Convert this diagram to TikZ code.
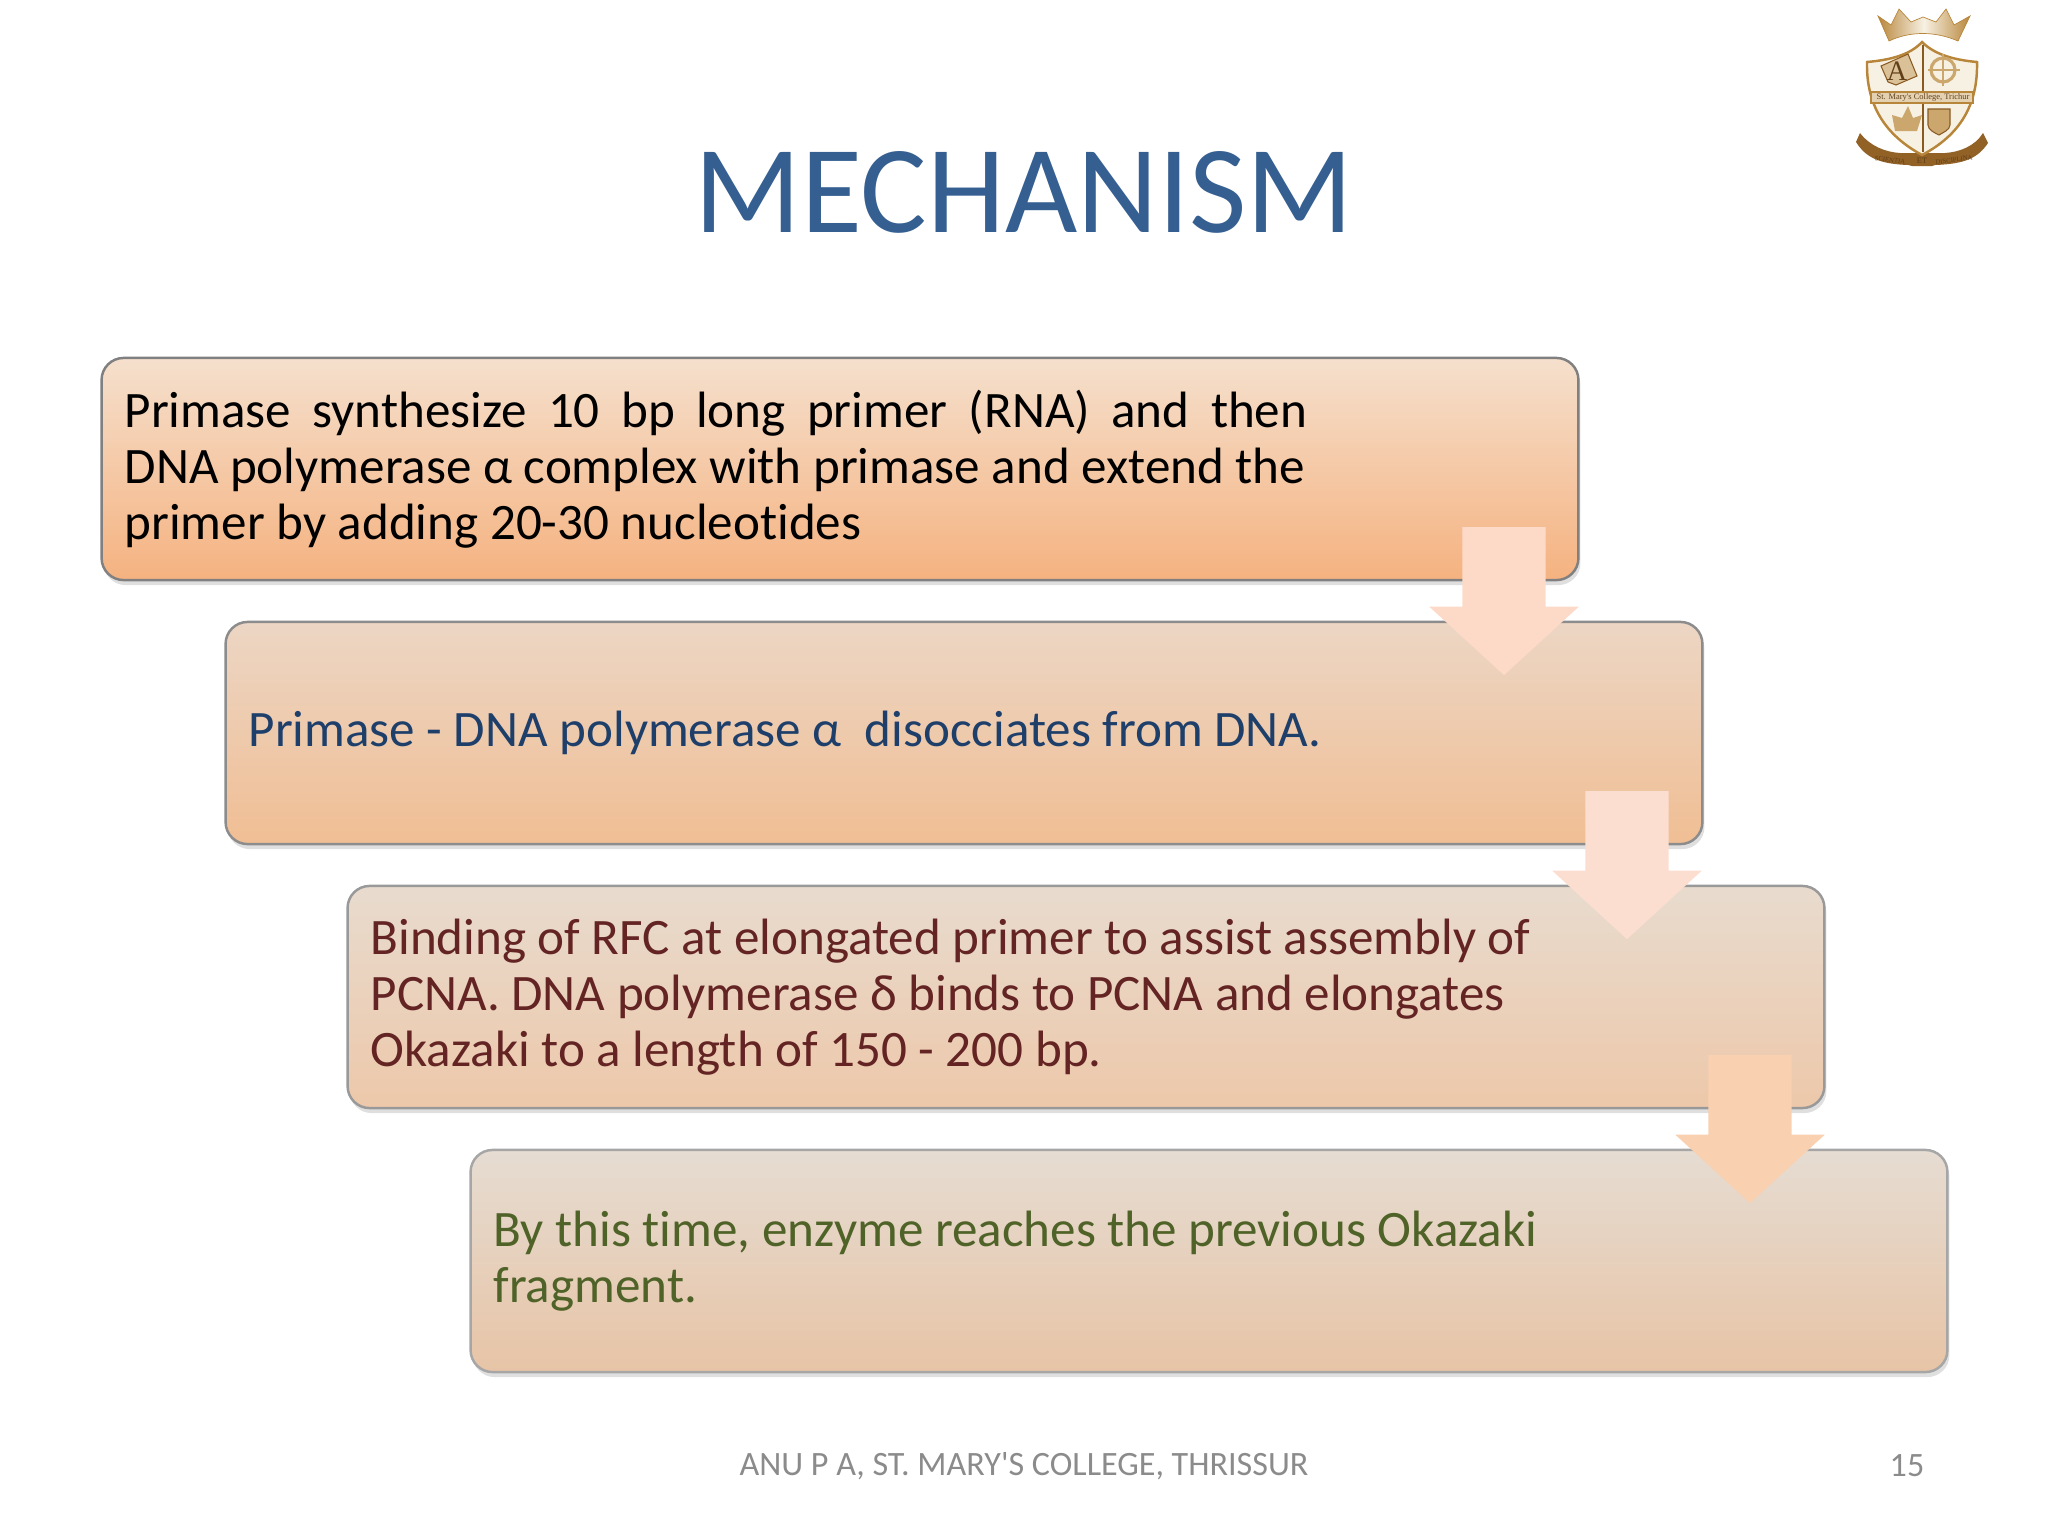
\documentclass[tikz,border=0pt]{standalone}
\usepackage{fontspec}
\setmainfont{Carlito}
\newfontfamily\slidefont{Carlito}[Ligatures=NoCommon]
\newfontfamily\crestfont{Liberation Serif}
\usetikzlibrary{shapes.arrows,shadows}

\definecolor{titleblue}{HTML}{365F91}
\definecolor{footgray}{HTML}{8B8B8B}
\definecolor{darkred}{HTML}{632423}
\definecolor{darkgreen}{HTML}{4F6228}
\definecolor{darkblue}{HTML}{1F3F6B}
\definecolor{crestgold}{HTML}{B8863B}
\definecolor{crestbrown}{HTML}{8A5A22}
\definecolor{crestcream}{HTML}{F7F1E3}
\definecolor{topa}{HTML}{F5E0CD}
\definecolor{bota}{HTML}{F5B280}
\definecolor{topb}{HTML}{ECD6C4}
\definecolor{botb}{HTML}{F0BE94}
\definecolor{topc}{HTML}{E8DBCE}
\definecolor{botc}{HTML}{EDC8AA}
\definecolor{topd}{HTML}{E6DCD2}
\definecolor{botd}{HTML}{E7C4A6}
\definecolor{arrowa}{HTML}{FDDAC8}
\definecolor{arrowb}{HTML}{FBDED0}
\definecolor{arrowc}{HTML}{F9D0B0}

\begin{document}
\begin{tikzpicture}[
    x=0.01cm,
    y=-0.01cm,
    titletext/.style={
        font=\slidefont\fontsize{35.5}{40}\selectfont,
        text=titleblue,
        inner sep=0pt
    },
    foottext/.style={
        font=\slidefont\fontsize{9.7}{12}\selectfont,
        text=footgray,
        inner sep=0pt
    },
    stepbox/.style={
        draw=#1,
        line width=0.7pt,
        rounded corners=0.22cm,
        minimum width=14.76cm,
        minimum height=2.22cm,
        inner xsep=0.23cm,
        inner ysep=0pt,
        text width=14.3cm,
        align=flush left,
        font=\slidefont\fontsize{14.53}{16}\selectfont,
        execute at end node={\endgraf\vskip-0.1cm},
        drop shadow={shadow xshift=0.02cm,shadow yshift=-0.05cm,opacity=0.25}
    },
    downarrow/.style={
        shape=single arrow,
        shape border rotate=270,
        minimum height=1.48cm,
        inner sep=0.41cm,
        single arrow head extend=0.33cm,
        single arrow tip angle=95,
        fill=#1
    },
    cresttext/.style={
        font=\crestfont\fontsize{#1}{3}\selectfont,
        text=crestbrown!70!black,
        inner sep=0pt
    }
]

\useasboundingbox (0,0) rectangle (2048,1536);

% ============================================================
% Title and footer
% ============================================================
\node[titletext] (title) at (1024,192) {MECHANISM};
\node[foottext] (footer) at (1024,1466) {ANU P A, ST. MARY'S COLLEGE, THRISSUR};
\node[foottext] (pageno) at (1907,1466) {15};

% ============================================================
% Steps
% ============================================================
\node[stepbox=black!50, top color=topa, bottom color=bota]
    (primer) at (840,469)
    {\makebox[11.82cm][s]{Primase synthesize 10 bp long primer (RNA) and then}\\
     DNA polymerase α complex with primase and extend the\\
     primer by adding 20-30 nucleotides};

\node[stepbox=black!45, top color=topb, bottom color=botb, text=darkblue]
    (release) at (964,733)
    {Primase - DNA polymerase α\ \ disocciates from DNA.};

\node[stepbox=black!40, top color=topc, bottom color=botc, text=darkred]
    (rfc) at (1086,997)
    {Binding of RFC at elongated primer to assist assembly of\\
     PCNA. DNA polymerase δ binds to PCNA and elongates\\
     Okazaki to a length of 150 - 200 bp.};

\node[stepbox=black!35, top color=topd, bottom color=botd, text=darkgreen]
    (okazaki) at (1209,1261)
    {By this time, enzyme reaches the previous Okazaki\\
     fragment.};

% ------------------------------------------------------------
% Block arrows between the steps
% ------------------------------------------------------------
\node[downarrow=arrowa] (arrow-a) at (1504,582) {};
\node[downarrow=arrowb] (arrow-b) at (1627,846) {};
\node[downarrow=arrowc] (arrow-c) at (1750,1110) {};

% ============================================================
% Crest
% ============================================================
% crown
\path[left color=crestgold, right color=crestgold, middle color=crestcream, draw=crestgold, line width=0.2pt]
    (1878,16) -- (1891,25) -- (1899,9) -- (1911,22) -- (1923,17) -- (1936,22) -- (1946,9)
    -- (1954,25) -- (1970,16) -- (1958,41) .. controls (1935,31) and (1910,31) .. (1889,41) -- cycle;
% ribbon
\path[fill=crestbrown!85!crestgold]
    (1856,142) -- (1860,133) .. controls (1870,146) and (1885,152) .. (1900,153) -- (1945,153)
    .. controls (1960,152) and (1975,146) .. (1983,133) -- (1988,143) .. controls (1978,158) and (1965,164) .. (1935,165)
    -- (1932,166) -- (1912,166) -- (1908,165) .. controls (1880,164) and (1866,158) .. (1856,142) -- cycle;
\node[cresttext=1.9, rotate=-8] (motto-l) at (1890,160) {SCIENTIA};
\node[cresttext=2.4] (motto-c) at (1922,161) {ET};
\node[cresttext=1.9, rotate=8] (motto-r) at (1954,160) {DISCIPLINA};
% shield
\path[fill=crestcream, draw=crestgold, line width=0.7pt]
    (1867,62) .. controls (1890,60) and (1910,55) .. (1922,42) .. controls (1935,55) and (1955,60) .. (1977,62)
    .. controls (1978,105) and (1960,135) .. (1922,155) .. controls (1885,135) and (1866,105) .. (1867,62) -- cycle;
\draw[crestbrown, line width=0.5pt] (1923,45) -- (1923,152);
\path[fill=crestcream!70!crestgold, draw=crestgold, line width=0.4pt] (1871,92) rectangle (1973,103);
\node[cresttext=2.4] (band) at (1923,97.5) {St. Mary's College, Trichur};
% quarter emblems
\path[fill=crestgold!45!crestcream, draw=crestbrown, line width=0.3pt]
    (1881,66) -- (1908,54) -- (1917,76) -- (1896,85) -- (1888,82) -- cycle;
\node[cresttext=8] (book) at (1897,71) {A};
\draw[crestgold!70!crestcream, line width=0.9pt] (1943,70) circle (12);
\draw[crestgold!70!crestcream, line width=0.5pt] (1928,70) -- (1960,70) (1943,54) -- (1943,86);
\path[fill=crestgold!70!crestcream] (1908,106) -- (1913,118) -- (1922,115) -- (1917,131) -- (1895,131) -- (1892,115) -- (1902,118) -- cycle;
\path[fill=crestgold!70!crestcream, draw=crestbrown, line width=0.3pt]
    (1928,109) -- (1950,109) -- (1950,125) .. controls (1950,130) and (1942,133) .. (1939,135) .. controls (1935,133) and (1928,130) .. (1928,125) -- cycle;

\end{tikzpicture}
\end{document}
